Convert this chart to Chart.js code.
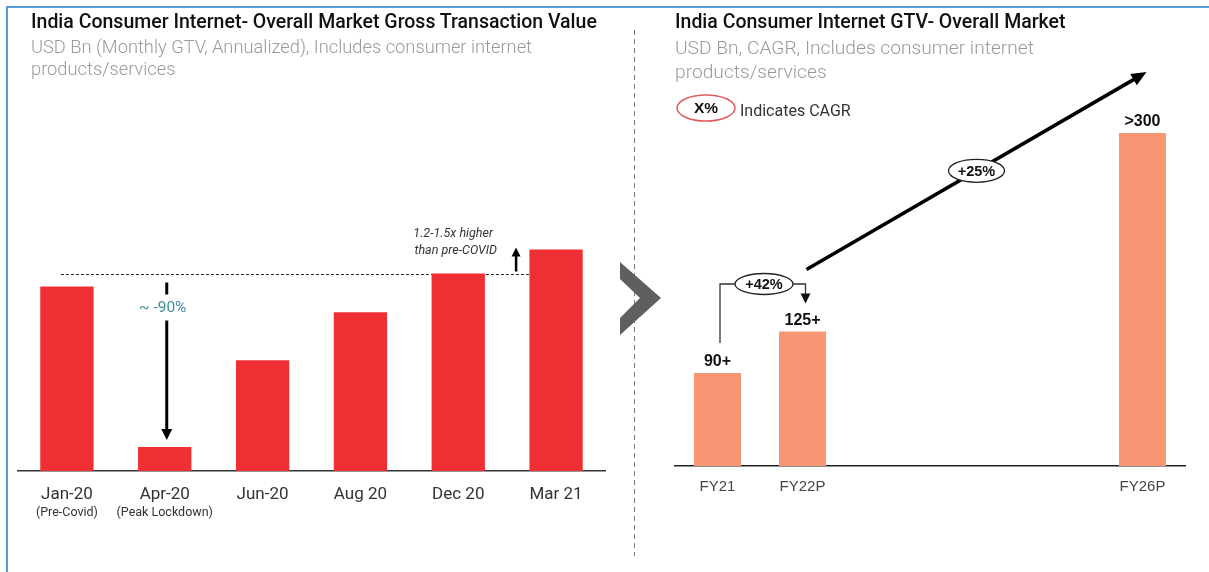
<!DOCTYPE html>
<html>
<head>
<meta charset="utf-8">
<script src="https://cdn.jsdelivr.net/npm/chart.js@4.4.0/dist/chart.umd.min.js"></script>
<style>
  body { margin: 0; background: #fff; font-family: Roboto, sans-serif; }
  #wrap { position: relative; width: 1209px; height: 572px; overflow: hidden; background: #fff; }
  #wrap canvas { position: absolute; top: 0; }
  .frame { position: absolute; left: 6px; top: 6px; width: 1220px; height: 600px;
           border-top: 2px solid #5b9bd5; border-left: 2px solid #5b9bd5; }
  .title { position: absolute; white-space: nowrap; font-weight: 500; color: #111; font-size: 19.5px; line-height: 24px; }
  .sub { position: absolute; white-space: nowrap; font-weight: 300; color: #9a9a9a; }
</style>
</head>
<body>
<div id="wrap">
  <div class="frame"></div>
  <canvas id="leftChart" width="620" height="572" style="left:0"></canvas>
  <canvas id="rightChart" width="589" height="572" style="left:620px"></canvas>
  <div class="title" style="left:31px; top:10px">India Consumer Internet- Overall Market Gross Transaction Value</div>
  <div class="sub" style="left:31px; top:36px; font-size:18.3px; line-height:22px">USD Bn (Monthly GTV, Annualized), Includes consumer internet<br>products/services</div>
  <div class="title" style="left:675px; top:10px">India Consumer Internet GTV- Overall Market</div>
  <div class="sub" style="left:675px; top:36px; font-size:19.2px; line-height:24px">USD Bn, CAGR, Includes consumer internet<br>products/services</div>
</div>
<script>
// left panel: monthly GTV, index with Jan-20 = 100
const monthLabels = ['Jan-20', 'Apr-20', 'Jun-20', 'Aug 20', 'Dec 20', 'Mar 21'];
const monthNotes = ['(Pre-Covid)', '(Peak Lockdown)', '', '', '', ''];
const gtvIndex = [100, 13, 60, 86, 107, 120];

// right panel: yearly GTV, USD Bn (middle years left empty)
const fyLabels = ['FY21', 'FY22P', '', '', '', 'FY26P'];
const fyGtv = [90, 130, null, null, null, 322];
const fyValueText = ['90+', '125+', '', '', '', '>300'];
const cagrText = ['+42%', '+25%'];

const FONT = 'Roboto, sans-serif';
const ARIAL = '"Liberation Sans", Arial, sans-serif';

function arrow(ctx, x1, y1, x2, y2, lw, hl, hw) {
  const a = Math.atan2(y2 - y1, x2 - x1);
  ctx.save();
  ctx.strokeStyle = '#000';
  ctx.fillStyle = '#000';
  ctx.lineWidth = lw;
  ctx.beginPath();
  ctx.moveTo(x1, y1);
  ctx.lineTo(x2 - Math.cos(a) * hl * 0.8, y2 - Math.sin(a) * hl * 0.8);
  ctx.stroke();
  ctx.translate(x2, y2);
  ctx.rotate(a);
  ctx.beginPath();
  ctx.moveTo(0, 0);
  ctx.lineTo(-hl, -hw / 2);
  ctx.lineTo(-hl, hw / 2);
  ctx.closePath();
  ctx.fill();
  ctx.restore();
}

function bubble(ctx, cx, cy, rx, ry, text, stroke, lw, font) {
  ctx.save();
  ctx.beginPath();
  ctx.ellipse(cx, cy, rx, ry, 0, 0, Math.PI * 2);
  ctx.fillStyle = '#fff';
  ctx.fill();
  ctx.strokeStyle = stroke;
  ctx.lineWidth = lw;
  ctx.stroke();
  ctx.fillStyle = '#111';
  ctx.font = font;
  ctx.textAlign = 'center';
  ctx.textBaseline = 'middle';
  ctx.fillText(text, cx, cy + 1);
  ctx.restore();
}

const leftNotes = {
  id: 'leftNotes',
  beforeDatasetsDraw(chart) {
    // pre-covid level line, behind the bars
    const ctx = chart.ctx;
    const bars = chart.getDatasetMeta(0).data;
    const yDash = chart.scales.y.getPixelForValue(gtvIndex[0]) - 12;
    const last = bars[bars.length - 1];
    ctx.save();
    ctx.strokeStyle = '#222';
    ctx.lineWidth = 1;
    ctx.setLineDash([3, 2]);
    ctx.beginPath();
    ctx.moveTo(bars[0].x - 6, yDash);
    ctx.lineTo(last.x - last.width / 2, yDash);
    ctx.stroke();
    ctx.restore();
  },
  afterDraw(chart) {
    const ctx = chart.ctx;
    const bars = chart.getDatasetMeta(0).data;
    const area = chart.chartArea;
    const yDash = chart.scales.y.getPixelForValue(gtvIndex[0]) - 12;
    const last = bars[bars.length - 1];

    ctx.save();
    ctx.font = '12.5px ' + FONT;
    ctx.fillStyle = '#333';
    ctx.textAlign = 'center';
    ctx.textBaseline = 'middle';
    monthNotes.forEach((t, i) => { if (t) ctx.fillText(t, bars[i].x, area.bottom + 42); });

    arrow(ctx, last.x - 40, yDash - 3, last.x - 40, yDash - 27, 2.5, 9, 9);
    ctx.font = 'italic 12.5px ' + FONT;
    ctx.fillStyle = '#333';
    ctx.textAlign = 'right';
    ctx.fillText('1.2-1.5x higher', last.x - 63, yDash - 41);
    ctx.fillText('than pre-COVID', last.x - 59, yDash - 24);

    // drop during lockdown
    const xd = bars[1].x + 2;
    ctx.strokeStyle = '#000';
    ctx.lineWidth = 3;
    ctx.beginPath();
    ctx.moveTo(xd, yDash + 8);
    ctx.lineTo(xd, yDash + 20);
    ctx.stroke();
    ctx.font = '15.5px ' + FONT;
    ctx.fillStyle = '#3d8c99';
    ctx.textAlign = 'center';
    ctx.fillText('~ -90%', xd - 4, yDash + 34);
    arrow(ctx, xd, yDash + 46, xd, bars[1].y - 7, 3, 11, 11);
    ctx.restore();
  }
};

const rightNotes = {
  id: 'rightNotes',
  beforeDraw(chart) {
    const ctx = chart.ctx;
    ctx.save();
    // panel divider
    ctx.strokeStyle = '#777';
    ctx.lineWidth = 1;
    ctx.setLineDash([5, 4]);
    ctx.beginPath();
    ctx.moveTo(14.5, 30);
    ctx.lineTo(14.5, 556);
    ctx.stroke();
    ctx.setLineDash([]);
    // chevron
    ctx.fillStyle = '#5f5f5f';
    ctx.beginPath();
    ctx.moveTo(0, 262);
    ctx.lineTo(41, 298);
    ctx.lineTo(0, 335);
    ctx.lineTo(0, 318);
    ctx.lineTo(20, 298);
    ctx.lineTo(0, 279);
    ctx.closePath();
    ctx.fill();
    ctx.restore();
  },
  afterDraw(chart) {
    const ctx = chart.ctx;
    const bars = chart.getDatasetMeta(0).data;
    ctx.save();
    ctx.font = 'bold 16px ' + ARIAL;
    ctx.fillStyle = '#111';
    ctx.textAlign = 'center';
    ctx.textBaseline = 'middle';
    fyValueText.forEach((t, i) => { if (t) ctx.fillText(t, bars[i].x, bars[i].y - 11); });

    // FY21 -> FY22P bracket
    const b0 = bars[0], b1 = bars[1], b5 = bars[5];
    const cx = (b0.x + b1.x) / 2 + 4, cy = 284;
    ctx.strokeStyle = '#333';
    ctx.lineWidth = 1.3;
    ctx.beginPath();
    ctx.moveTo(b0.x + 2.5, b0.y - 30);
    ctx.lineTo(b0.x + 2.5, cy);
    ctx.lineTo(cx - 29, cy);
    ctx.moveTo(cx + 29, cy);
    ctx.lineTo(b1.x + 3, cy);
    ctx.lineTo(b1.x + 3, b1.y - 36);
    ctx.stroke();
    ctx.fillStyle = '#111';
    ctx.beginPath();
    ctx.moveTo(b1.x + 3, b1.y - 28);
    ctx.lineTo(b1.x - 2, b1.y - 38);
    ctx.lineTo(b1.x + 8, b1.y - 38);
    ctx.closePath();
    ctx.fill();
    bubble(ctx, cx, cy, 29, 10.5, cagrText[0], '#222', 1.3, 'bold 14.5px ' + ARIAL);

    // FY22P -> FY26P trend
    const sx = b1.x + 4, sy = b1.y - 62, ex = b5.x + 4, ey = b5.y - 61;
    arrow(ctx, sx, sy, ex, ey, 3.5, 15, 13);
    bubble(ctx, (sx + ex) / 2, (sy + ey) / 2, 28, 11.5, cagrText[1], '#222', 1.3, 'bold 14.5px ' + ARIAL);

    // legend
    bubble(ctx, 86, 108, 29, 13, 'X%', '#e25b5b', 1.5, 'bold 15.5px ' + ARIAL);
    ctx.font = '16px ' + FONT;
    ctx.fillStyle = '#333';
    ctx.textAlign = 'left';
    ctx.textBaseline = 'middle';
    ctx.fillText('Indicates CAGR', 120, 112);
    ctx.restore();
  }
};

new Chart(document.getElementById('leftChart'), {
  type: 'bar',
  data: {
    labels: monthLabels,
    datasets: [{
      data: gtvIndex,
      backgroundColor: '#ee3035',
      categoryPercentage: 1,
      barPercentage: 0.545
    }]
  },
  options: {
    responsive: false,
    animation: false,
    layout: { padding: { left: 18, right: 15, top: 150, bottom: 41 } },
    plugins: { legend: { display: false }, tooltip: { enabled: false } },
    scales: {
      x: {
        grid: { display: false, drawTicks: false },
        border: { display: true, color: '#333', width: 1.5 },
        ticks: { color: '#333', font: { family: FONT, size: 17 }, padding: 14 },
        afterFit(s) { s.height = 60; }
      },
      y: { display: false, min: 0, max: 174 }
    }
  },
  plugins: [leftNotes]
});

new Chart(document.getElementById('rightChart'), {
  type: 'bar',
  data: {
    labels: fyLabels,
    datasets: [{
      data: fyGtv,
      backgroundColor: '#f89572',
      categoryPercentage: 1,
      barPercentage: 0.553
    }]
  },
  options: {
    responsive: false,
    animation: false,
    layout: { padding: { left: 55, right: 24, top: 100, bottom: 46 } },
    plugins: { legend: { display: false }, tooltip: { enabled: false } },
    scales: {
      x: {
        grid: { display: false, drawTicks: false },
        border: { display: true, color: '#222', width: 1.5 },
        ticks: { color: '#444', font: { family: ARIAL, size: 15 }, padding: 12 },
        afterFit(s) { s.height = 60; }
      },
      y: { display: false, min: 0, max: 354 }
    }
  },
  plugins: [rightNotes]
});
</script>
</body>
</html>
